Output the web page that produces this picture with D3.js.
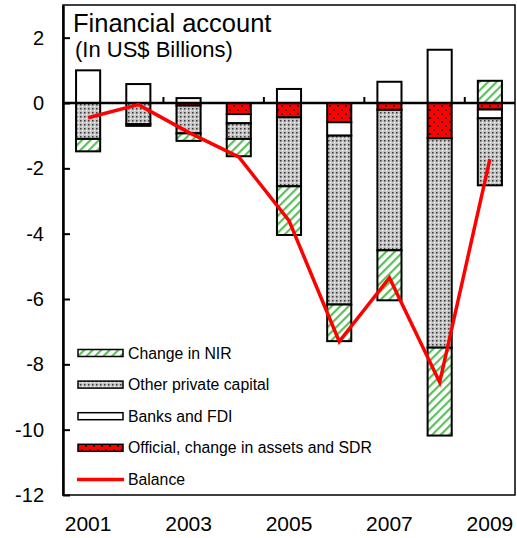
<!DOCTYPE html>
<html><head><meta charset="utf-8">
<script src="https://cdn.jsdelivr.net/npm/d3@7"></script>
<style>body{margin:0;background:#fff}svg{display:block}text{font-family:"Liberation Sans",Arial,sans-serif;fill:#000}</style>
</head><body><svg id="c" width="517" height="538"></svg>
<script>
const years = [2001, 2002, 2003, 2004, 2005, 2006, 2007, 2008, 2009];
const official = [0, 0, -0.08, -0.34, -0.44, -0.59, -0.21, -1.08, -0.20];
const banksFDI = [1.0, 0.58, 0.15, -0.28, 0.43, -0.41, 0.65, 1.63, -0.27];
const otherPrivate = [-1.10, -0.65, -0.85, -0.48, -2.11, -5.17, -4.30, -6.41, -2.05];
const changeNIR = [-0.38, -0.05, -0.23, -0.53, -1.49, -1.12, -1.53, -2.69, 0.68];
const balance = [-0.45, -0.05, -0.9, -1.65, -3.6, -7.3, -5.35, -8.55, -1.72];
const yTicks = [-12, -10, -8, -6, -4, -2, 0, 2];
const xLabels = [2001, 2003, 2005, 2007, 2009];
const legendItems = [
  {key: "nir", label: "Change in NIR"},
  {key: "other", label: "Other private capital"},
  {key: "banks", label: "Banks and FDI"},
  {key: "official", label: "Official, change in assets and SDR"},
  {key: "balance", label: "Balance"}
];
const titleText = "Financial account";
const subtitleText = "(In US$ Billions)";

const svg = d3.select("#c");
const L = 63, R = 515, T = 5, B = 495;

// patterns
const defs = svg.append("defs");
const hatch = defs.append("pattern").attr("id", "p-nir").attr("patternUnits", "userSpaceOnUse")
  .attr("width", 6).attr("height", 6).attr("patternTransform", "rotate(45)");
hatch.append("rect").attr("width", 6).attr("height", 6).attr("fill", "#fff");
hatch.append("rect").attr("x", 0).attr("width", 2.2).attr("height", 6).attr("fill", "#5cbf5c");

const dots = defs.append("pattern").attr("id", "p-other").attr("patternUnits", "userSpaceOnUse")
  .attr("width", 4).attr("height", 4);
dots.append("rect").attr("width", 4).attr("height", 4).attr("fill", "#c4c4c4");
dots.append("rect").attr("x", 0).attr("y", 0).attr("width", 1.5).attr("height", 1.5).attr("fill", "#3a3a3a");
dots.append("rect").attr("x", 2).attr("y", 2).attr("width", 1.2).attr("height", 1.2).attr("fill", "#ffffff");

const red = defs.append("pattern").attr("id", "p-official").attr("patternUnits", "userSpaceOnUse")
  .attr("width", 8).attr("height", 8);
red.append("rect").attr("width", 8).attr("height", 8).attr("fill", "#ff0000");
red.append("circle").attr("cx", 2).attr("cy", 2).attr("r", 0.9).attr("fill", "#000");
red.append("circle").attr("cx", 6).attr("cy", 6).attr("r", 0.9).attr("fill", "#000");

const fills = {nir: "url(#p-nir)", other: "url(#p-other)", banks: "#ffffff", official: "url(#p-official)"};

const x = d3.scaleBand().domain(years).range([L, R]).paddingInner(0.52).paddingOuter(0.26);
const y = d3.scaleLinear().domain([-12, 3]).range([B, T]);

const rows = years.map((yr, i) => ({year: yr, official: official[i], banks: banksFDI[i], other: otherPrivate[i], nir: changeNIR[i]}));
const series = d3.stack().keys(["official", "banks", "other", "nir"]).offset(d3.stackOffsetDiverging)(rows);

// frame
svg.append("rect").attr("x", L).attr("y", T).attr("width", R - L).attr("height", B - T)
  .attr("fill", "none").attr("stroke", "#000").attr("stroke-width", 1.5);

// bars
svg.append("g").selectAll("g").data(series).join("g")
  .attr("fill", d => fills[d.key])
  .selectAll("rect").data(d => d.filter(s => s[1] !== s[0])).join("rect")
  .attr("x", d => x(d.data.year))
  .attr("width", x.bandwidth())
  .attr("y", d => y(Math.max(d[0], d[1])))
  .attr("height", d => Math.abs(y(d[0]) - y(d[1])))
  .attr("stroke", "#000").attr("stroke-width", 2);

// y axis
const yAxis = svg.append("g").attr("transform", `translate(${L},0)`)
  .call(d3.axisLeft(y).tickValues(yTicks).tickFormat(d => String(d)).tickSizeInner(-7).tickSizeOuter(0).tickPadding(19));
yAxis.select(".domain").attr("stroke-width", 2.5);
yAxis.selectAll(".tick line").attr("stroke-width", 2);
yAxis.selectAll("text").attr("font-size", 20).attr("font-family", "Liberation Sans, Arial, sans-serif");

// x labels
const xAxis = svg.append("g").attr("transform", `translate(0,${B})`)
  .call(d3.axisBottom(x).tickValues(xLabels).tickSize(0).tickPadding(21));
xAxis.select(".domain").remove();
xAxis.selectAll("text").attr("font-size", 21).attr("font-family", "Liberation Sans, Arial, sans-serif");

// zero line with boundary ticks
const y0 = y(0);
svg.append("line").attr("x1", L).attr("x2", R).attr("y1", y0).attr("y2", y0)
  .attr("stroke", "#000").attr("stroke-width", 2.5);
const boundaries = [2003, 2005, 2007, 2009].map(yr => x(yr) - x.step() * x.paddingInner() / 2);
svg.append("g").selectAll("line").data(boundaries).join("line")
  .attr("x1", d => d).attr("x2", d => d).attr("y1", y0).attr("y2", y0 - 6)
  .attr("stroke", "#000").attr("stroke-width", 2);

// balance line
svg.append("path").datum(years.map((yr, i) => [yr, balance[i]]))
  .attr("fill", "none").attr("stroke", "#ff0000").attr("stroke-width", 3.5).attr("stroke-linejoin", "miter")
  .attr("d", d3.line().x(d => x(d[0]) + x.bandwidth() / 2).y(d => y(d[1])));

// title
svg.append("text").attr("x", 73).attr("y", 32).attr("font-size", 25.5).text(titleText);
svg.append("text").attr("x", 75).attr("y", 57).attr("font-size", 22).text(subtitleText);

// legend
const lg = svg.append("g");
legendItems.forEach((it, i) => {
  const cy = 353 + i * 31.6;
  if (it.key === "balance") {
    lg.append("line").attr("x1", 77).attr("x2", 124).attr("y1", cy).attr("y2", cy)
      .attr("stroke", "#ff0000").attr("stroke-width", 3.5);
  } else {
    lg.append("rect").attr("x", 78).attr("y", cy - 3.5).attr("width", 45).attr("height", 7)
      .attr("fill", fills[it.key]).attr("stroke", "#000").attr("stroke-width", 1.5);
  }
  lg.append("text").attr("x", 128).attr("y", cy).attr("dy", "0.35em").attr("font-size", 15.8).text(it.label);
});
</script></body></html>
